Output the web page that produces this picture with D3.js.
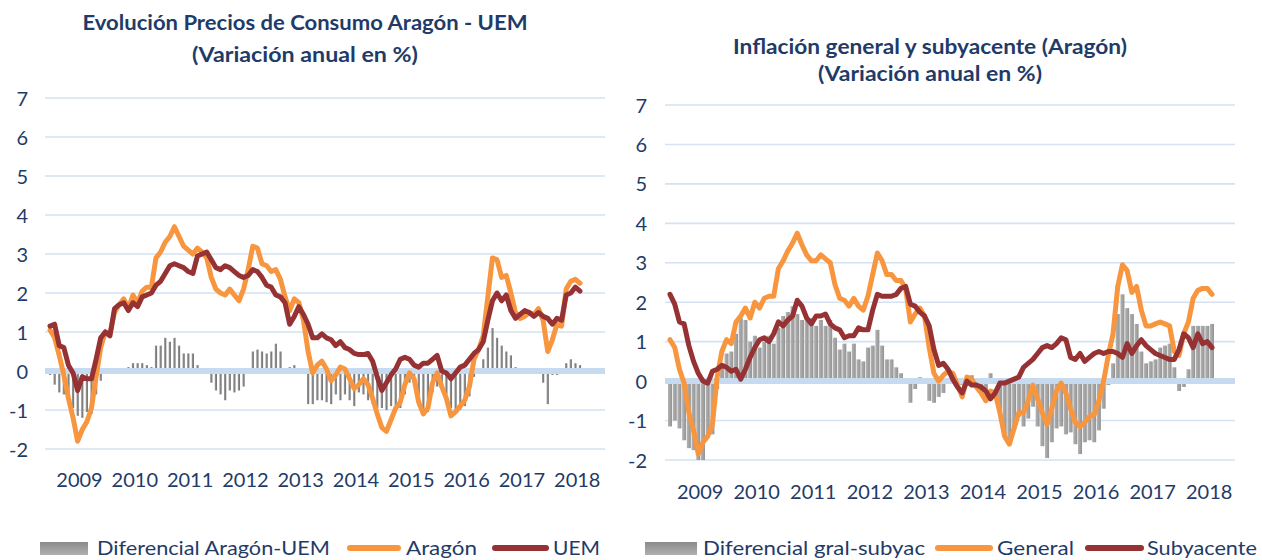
<!DOCTYPE html>
<html><head><meta charset="utf-8">
<script src="https://cdn.jsdelivr.net/npm/d3@7"></script>
<style>body{margin:0;background:#fff;} svg{display:block;font-family:Lato,"Open Sans",sans-serif;}</style>
</head><body><svg id="c" width="1262" height="560"></svg>
<script>
// ---------- DATA (monthly, Jan 2009 - Aug 2018) ----------
const years = ["2009","2010","2011","2012","2013","2014","2015","2016","2017","2018"];
const yTicks = [-2,-1,0,1,2,3,4,5,6,7];

const aragon = [1.05,0.85,0.4,-0.1,-0.7,-1.2,-1.8,-1.5,-1.3,-0.95,
 -0.15,0.6,1.0,0.95,1.5,1.7,1.85,1.6,1.95,1.75,
 2.05,2.15,2.15,2.9,3.05,3.3,3.45,3.7,3.45,3.2,
 3.1,3.0,3.15,3.05,2.9,2.4,2.1,2.0,1.95,2.1,
 1.95,1.8,2.1,2.6,3.2,3.15,2.75,2.7,2.55,2.6,
 2.35,1.9,1.55,1.85,1.75,1.3,0.5,-0.05,0.15,0.25,
 0.05,-0.25,-0.1,0.1,0.05,-0.2,-0.45,-0.35,-0.2,-0.35,
 -0.7,-1.1,-1.45,-1.55,-1.25,-0.95,-0.8,-0.35,-0.05,-0.2,
 -0.8,-1.1,-0.95,-0.3,-0.05,-0.4,-0.7,-1.15,-1.05,-0.9,
 -0.75,-0.4,0.3,0.55,0.9,1.9,2.9,2.85,2.4,2.45,
 2.0,1.5,1.35,1.4,1.5,1.45,1.6,1.3,0.5,0.8,
 1.2,1.15,2.1,2.3,2.35,2.25];

const uem = [1.15,1.2,0.65,0.6,0.15,-0.05,-0.5,-0.15,-0.2,-0.2,
 0.3,0.85,1.0,0.9,1.6,1.7,1.75,1.55,1.75,1.65,
 1.9,1.95,2.0,2.2,2.3,2.5,2.7,2.75,2.7,2.65,
 2.55,2.5,2.95,3.0,3.05,2.85,2.65,2.6,2.7,2.65,
 2.55,2.45,2.4,2.45,2.6,2.55,2.4,2.2,2.15,1.95,
 1.9,1.75,1.2,1.4,1.65,1.45,1.2,0.85,0.85,0.95,
 0.85,0.8,0.65,0.75,0.6,0.55,0.45,0.42,0.42,0.45,
 0.25,-0.15,-0.5,-0.3,-0.1,0.05,0.3,0.35,0.3,0.15,
 0.1,0.2,0.2,0.3,0.4,0.0,-0.05,-0.2,-0.05,0.1,
 0.15,0.3,0.45,0.55,0.75,1.3,1.8,2.0,1.8,1.95,
 1.55,1.35,1.45,1.55,1.5,1.4,1.5,1.4,1.35,1.2,
 1.35,1.3,1.95,2.0,2.15,2.05];

const difAragonUem = [-0.1,-0.35,-0.55,-0.6,-0.75,-0.95,-1.15,-1.2,-1.05,-1.1,
 -0.6,-0.25,0.05,0.05,0.0,0.0,0.05,0.1,0.2,0.2,
 0.2,0.15,0.1,0.65,0.65,0.85,0.75,0.85,0.65,0.45,
 0.45,0.45,0.15,0.05,0.0,-0.3,-0.5,-0.6,-0.75,-0.5,
 -0.55,-0.5,-0.4,0.0,0.5,0.55,0.5,0.45,0.5,0.7,
 0.5,0.05,0.1,0.15,0.05,0.0,-0.85,-0.85,-0.75,-0.75,
 -0.8,-0.85,-0.6,-0.75,-0.6,-0.75,-0.9,-0.55,-0.6,-0.75,
 -0.85,-0.95,-0.95,-1.0,-0.9,-0.9,-0.95,-0.6,-0.3,-0.35,
 -0.9,-1.1,-1.05,-0.55,-0.4,-0.4,-0.6,-0.95,-1.0,-1.0,
 -0.9,-0.65,-0.15,0.05,0.3,0.6,1.1,0.85,0.65,0.5,
 0.4,0.1,0.0,0.0,0.0,0.0,0.05,-0.3,-0.85,-0.1,
 -0.1,-0.05,0.2,0.3,0.2,0.15];

const general = [1.05,0.85,0.3,-0.05,-0.8,-1.25,-1.85,-1.55,-1.4,-1.1,
 0.1,0.75,1.05,0.95,1.5,1.65,1.85,1.6,2.0,1.85,
 2.1,2.15,2.15,2.85,3.05,3.3,3.5,3.75,3.45,3.2,
 3.05,3.05,3.2,3.1,3.0,2.45,2.1,2.05,1.9,2.1,
 1.9,1.8,2.15,2.7,3.25,3.05,2.7,2.7,2.55,2.55,
 2.35,1.5,1.7,1.85,1.65,0.85,0.2,0.0,0.15,0.25,
 0.2,-0.1,-0.4,0.1,0.05,-0.15,-0.3,-0.5,-0.25,-0.3,
 -0.8,-1.4,-1.6,-1.2,-0.8,-0.8,-0.5,-0.1,-0.45,-0.8,
 -1.1,-0.7,-0.25,-0.05,-0.3,-0.7,-1.05,-1.15,-1.05,-0.9,
 -0.85,-0.5,0.0,0.65,1.2,2.4,2.95,2.8,2.25,2.4,
 1.8,1.4,1.4,1.45,1.5,1.45,1.4,0.75,0.65,1.2,
 1.5,2.1,2.3,2.35,2.35,2.2];

const subyacente = [2.2,1.95,1.5,1.45,0.9,0.5,0.2,0.0,-0.05,0.25,
 0.3,0.4,0.35,0.25,0.3,0.05,0.3,0.6,0.85,1.05,
 1.1,1.0,1.2,1.5,1.4,1.55,1.65,2.05,1.9,1.6,
 1.45,1.65,1.65,1.7,1.45,1.35,1.3,1.1,1.15,1.15,
 1.35,1.3,1.3,1.8,2.2,2.15,2.15,2.15,2.2,2.35,
 2.4,1.95,1.9,1.75,1.65,1.4,0.8,0.4,0.45,0.3,
 0.05,-0.15,-0.3,0.0,-0.1,-0.1,-0.15,-0.25,-0.45,-0.3,
 -0.05,-0.05,0.0,0.05,0.1,0.35,0.45,0.55,0.7,0.85,
 0.9,0.85,0.95,1.1,1.05,0.6,0.55,0.7,0.5,0.6,
 0.7,0.75,0.7,0.75,0.75,0.7,0.6,0.95,0.7,0.9,
 1.05,0.9,0.8,0.7,0.65,0.6,0.55,0.55,0.8,1.2,
 1.1,0.85,1.2,0.95,1.0,0.85];

const difGralSubyac = [-1.15,-1.0,-1.2,-1.5,-1.7,-1.75,-2.0,-2.0,-1.4,-1.35,
 -0.2,0.35,0.7,0.75,1.2,1.6,1.55,1.0,1.15,0.85,
 1.0,1.15,0.95,1.35,1.65,1.75,1.9,1.7,1.55,1.6,
 1.6,1.4,1.55,1.4,1.55,1.1,0.8,0.95,0.75,0.95,
 0.55,0.5,0.85,0.9,1.3,0.9,0.55,0.55,0.35,0.2,
 -0.05,-0.55,-0.2,0.1,0.05,-0.5,-0.55,-0.4,-0.3,-0.05,
 0.15,0.05,-0.1,0.1,0.15,-0.05,-0.15,-0.25,0.2,0.0,
 -0.75,-1.35,-1.6,-1.25,-0.9,-1.15,-0.95,-0.65,-1.15,-1.65,
 -1.95,-1.55,-1.2,-1.15,-1.35,-1.3,-1.6,-1.85,-1.55,-1.5,
 -1.55,-1.25,-0.7,-0.1,0.45,1.7,2.2,1.85,1.7,1.45,
 0.75,0.45,0.5,0.55,0.85,0.9,0.95,0.35,-0.25,-0.15,
 0.3,1.4,1.4,1.4,1.4,1.45];

const titleLeft = ["Evolución Precios de Consumo Aragón - UEM", "(Variación anual en %)"];
const titleRight = ["Inflación general y subyacente (Aragón)", "(Variación anual en %)"];
const legendLeft = ["Diferencial Aragón-UEM", "Aragón", "UEM"];
const legendRight = ["Diferencial gral-subyac", "General", "Subyacente"];

// ---------- STYLE ----------
const TXT = "#1f3b68", ORANGE = "#f7963f", RED = "#963234", GRID = "#d5e2f3", ZERO = "#c7dbf0";
const svg = d3.select("#c");
const defs = svg.append("defs");
const g1 = defs.append("linearGradient").attr("id","gBarL").attr("x1",0).attr("x2",1).attr("y1",0).attr("y2",0);
g1.append("stop").attr("offset","0%").attr("stop-color","#9a9a9a");
g1.append("stop").attr("offset","100%").attr("stop-color","#6f6f6f");
const g2 = defs.append("linearGradient").attr("id","gBarR").attr("x1",0).attr("x2",1).attr("y1",0).attr("y2",0);
g2.append("stop").attr("offset","0%").attr("stop-color","#b4b4b4");
g2.append("stop").attr("offset","100%").attr("stop-color","#939393");
const g3 = defs.append("linearGradient").attr("id","gLeg").attr("x1",0).attr("x2",0).attr("y1",0).attr("y2",1);
g3.append("stop").attr("offset","0%").attr("stop-color","#8a8a8a");
g3.append("stop").attr("offset","100%").attr("stop-color","#b0b0b0");

function drawChart(o) {
  const g = svg.append("g");
  const n = o.lines[0].data.length;
  const x = d3.scaleLinear().domain([0, n - 1]).range([o.dx0, o.dx1]);
  const y = d3.scaleLinear().domain([-2, 7]).range([o.yBot, o.yTop]);

  // grid
  g.append("g").selectAll("line").data(yTicks.filter(t => t !== 0)).join("line")
    .attr("x1", o.gx0).attr("x2", o.gx1).attr("y1", d => y(d)).attr("y2", d => y(d))
    .attr("stroke", GRID).attr("stroke-width", 1.6);

  // y axis labels
  const yAxis = d3.axisLeft(y).tickValues(yTicks).tickSize(0).tickPadding(0).tickFormat(d => String(d));
  const ya = g.append("g").attr("transform", `translate(${o.tickRight},0)`).call(yAxis);
  ya.select(".domain").remove();
  ya.selectAll("text").attr("fill", TXT).attr("font-size", 20).attr("font-family", "Lato, 'Open Sans', sans-serif").attr("dy", "0.35em");

  // bars
  g.append("g").selectAll("rect").data(o.bars).join("rect")
    .attr("x", (d, i) => x(i) - o.barW / 2)
    .attr("y", d => Math.min(y(d), y(0)))
    .attr("width", o.barW)
    .attr("height", d => Math.abs(y(d) - y(0)))
    .attr("fill", o.barFill);

  // zero band
  g.append("line").attr("x1", o.gx0).attr("x2", o.gx1).attr("y1", y(0)).attr("y2", y(0))
    .attr("stroke", ZERO).attr("stroke-width", 6);

  // lines
  const line = d3.line().x((d, i) => x(i)).y(d => y(d));
  o.lines.forEach(l => {
    g.append("path").datum(l.data).attr("d", line).attr("fill", "none")
      .attr("stroke", l.color).attr("stroke-width", 5)
      .attr("stroke-linejoin", "round").attr("stroke-linecap", "round");
  });

  // year labels (centred mid-year)
  g.append("g").selectAll("text").data(years).join("text")
    .attr("x", (d, i) => x(6.4 + 12 * i)).attr("y", o.yearY)
    .attr("text-anchor", "middle").attr("fill", TXT).attr("font-size", 20).text(d => d);

  // titles
  o.titles.forEach(t => {
    g.append("text").attr("x", t.x).attr("y", t.y).attr("text-anchor", "middle")
      .attr("fill", TXT).attr("font-weight", 700).attr("font-size", 20)
      .attr("textLength", t.len).attr("lengthAdjust", "spacingAndGlyphs").text(t.text);
  });

  // legend
  o.legend.forEach(it => {
    if (it.type === "rect") {
      g.append("rect").attr("x", it.sx).attr("y", o.legY - 6).attr("width", it.sw).attr("height", 13).attr("fill", "url(#gLeg)");
    } else {
      g.append("line").attr("x1", it.sx + 3).attr("x2", it.sx + it.sw - 3).attr("y1", o.legY).attr("y2", o.legY)
        .attr("stroke", it.color).attr("stroke-width", 6).attr("stroke-linecap", "round");
    }
    g.append("text").attr("x", it.tx).attr("y", o.legY + 7).attr("fill", TXT).attr("font-size", 20)
      .attr("textLength", it.tl).attr("lengthAdjust", "spacingAndGlyphs").text(it.label);
  });
}

drawChart({
  dx0: 50, dx1: 580, gx0: 45, gx1: 605, yTop: 98, yBot: 449, tickRight: 28, yearY: 487,
  bars: difAragonUem, barW: 2.2, barFill: "url(#gBarL)",
  lines: [{data: aragon, color: ORANGE}, {data: uem, color: RED}],
  titles: [{text: titleLeft[0], x: 305, y: 30, len: 445}, {text: titleLeft[1], x: 305, y: 62, len: 226}],
  legY: 548,
  legend: [
    {type: "rect", sx: 40, sw: 48, label: legendLeft[0], tx: 97, tl: 233},
    {type: "line", sx: 347, sw: 54, color: ORANGE, label: legendLeft[1], tx: 406, tl: 71},
    {type: "line", sx: 492, sw: 57, color: RED, label: legendLeft[2], tx: 553, tl: 47}
  ]
});

drawChart({
  dx0: 670, dx1: 1212, gx0: 665, gx1: 1235, yTop: 105, yBot: 460, tickRight: 647, yearY: 499,
  bars: difGralSubyac, barW: 4.0, barFill: "url(#gBarR)",
  lines: [{data: general, color: ORANGE}, {data: subyacente, color: RED}],
  titles: [{text: titleRight[0], x: 930, y: 54, len: 394}, {text: titleRight[1], x: 930, y: 81, len: 224}],
  legY: 548,
  legend: [
    {type: "rect", sx: 645, sw: 52, label: legendRight[0], tx: 703, tl: 222},
    {type: "line", sx: 935, sw: 58, color: ORANGE, label: legendRight[1], tx: 997, tl: 77},
    {type: "line", sx: 1085, sw: 59, color: RED, label: legendRight[2], tx: 1147, tl: 110}
  ]
});
</script></body></html>
